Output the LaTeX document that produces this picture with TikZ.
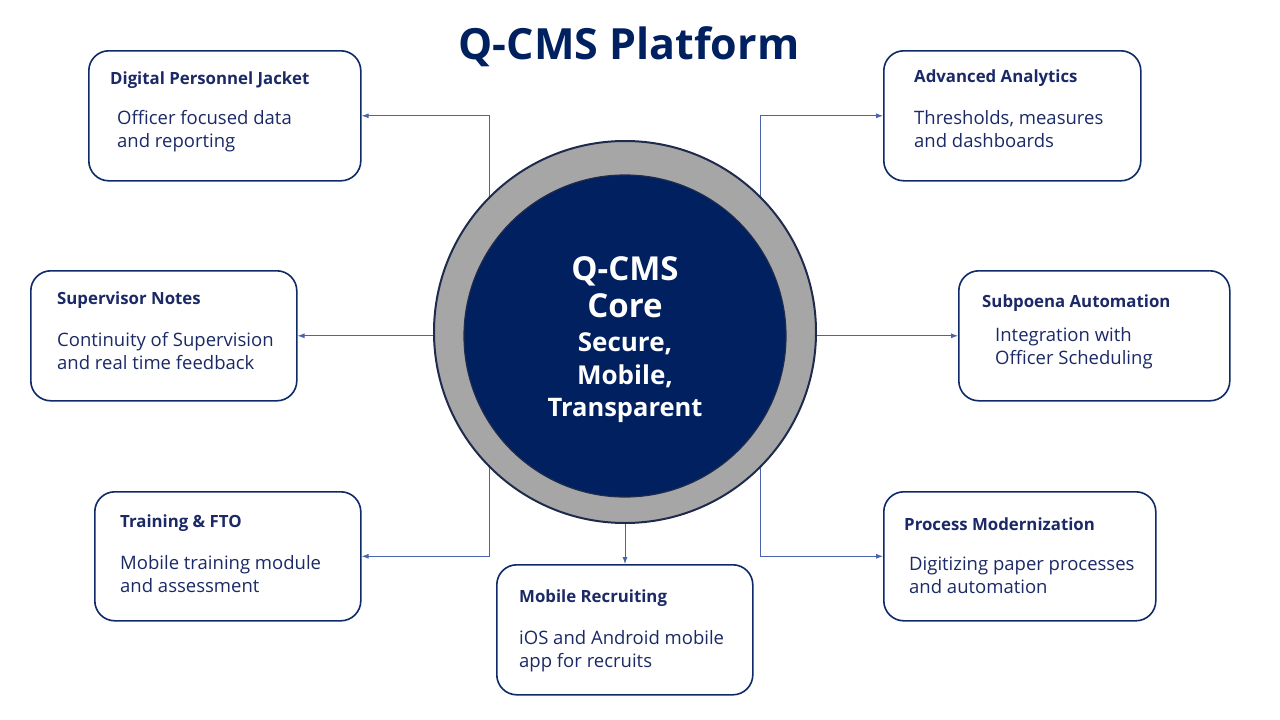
\documentclass[tikz,border=0pt]{standalone}
\usepackage{fontspec}
\setmainfont{Open Sans}
\usetikzlibrary{arrows.meta,calc}
\definecolor{navy}{HTML}{002060}
\definecolor{boxline}{HTML}{0E2A68}
\definecolor{txt}{HTML}{1B2A66}
\definecolor{conn}{HTML}{4A63AE}
\definecolor{ring}{HTML}{A6A6A6}
\definecolor{ringline}{HTML}{1F2B4D}
\tikzset{
  card/.style={draw=boxline, line width=1.6pt, rounded corners=20pt, fill=white, anchor=north west, inner sep=0pt},
  cardtitle/.style={anchor=base west, inner sep=0pt, text=txt, font=\fontsize{16.8}{19}\selectfont\bfseries},
  cardbody/.style={anchor=base west, inner sep=0pt, text=txt, align=left, font=\fontsize{18.5}{23}\selectfont},
  coretext/.style={anchor=base, inner sep=0pt, text=white, font=\fontsize{26}{30}\selectfont\bfseries},
  link/.style={draw=conn, line width=0.8pt, -{Latex[length=7pt,width=5pt]}},
}
\begin{document}
\begin{tikzpicture}[x=1pt,y=-1pt]
\useasboundingbox (0,0) rectangle (1280,720);
\fill[white] (0,0) rectangle (1280,720);

\node[anchor=base, inner sep=0pt, text=navy, font=\fontsize{43}{48}\selectfont\bfseries] (title) at (629,59) {Q-CMS Platform};

% core
\node[circle, draw=ringline, line width=2pt, fill=ring, minimum size=382pt, inner sep=0pt] (core) at (625,332) {};
\node[circle, draw=ringline, line width=1.2pt, fill=navy, minimum size=322pt, inner sep=0pt] (inner) at (625,336) {};
\node[coretext, font=\fontsize{33}{36}\selectfont\bfseries] (c1) at (625,280) {Q-CMS};
\node[coretext, font=\fontsize{33}{36}\selectfont\bfseries] (c2) at (625,317) {Core};
\node[coretext] (c3) at (625,351) {Secure,};
\node[coretext] (c4) at (625,384) {Mobile,};
\node[coretext, font=\fontsize{25.5}{30}\selectfont\bfseries] (c5) at (625,416) {Transparent};

% cards
\node[card, minimum width=272pt, minimum height=130pt] (dpj) at (88,50) {};
\node[cardtitle] (dpjt) at (110,84) {Digital Personnel Jacket};
\node[cardbody] (dpjb) at (117,147) {Officer focused data\\and reporting};

\node[card, minimum width=257pt, minimum height=130pt] (aa) at (883,50) {};
\node[cardtitle] (aat) at (914,82) {Advanced Analytics};
\node[cardbody] (aab) at (914,147) {Thresholds, measures\\and dashboards};

\node[card, minimum width=266pt, minimum height=130pt] (sup) at (30,270) {};
\node[cardtitle] (supt) at (57,304) {Supervisor Notes};
\node[cardbody] (supb) at (57,369) {Continuity of Supervision\\and real time feedback};

\node[card, minimum width=271pt, minimum height=130pt] (sub) at (958,270) {};
\node[cardtitle] (subt) at (982,307) {Subpoena Automation};
\node[cardbody] (subb) at (995,364) {Integration with\\Officer Scheduling};

\node[card, minimum width=266pt, minimum height=129pt] (tr) at (94,491) {};
\node[cardtitle] (trt) at (120,527) {Training \& FTO};
\node[cardbody] (trb) at (120,592) {Mobile training module\\and assessment};

\node[card, minimum width=256pt, minimum height=130pt] (mr) at (496,564) {};
\node[cardtitle] (mrt) at (519,602) {Mobile Recruiting};
\node[cardbody] (mrb) at (519,667) {iOS and Android mobile\\app for recruits};

\node[card, minimum width=272pt, minimum height=129pt] (pm) at (883,491) {};
\node[cardtitle] (pmt) at (904,530) {Process Modernization};
\node[cardbody] (pmb) at (909,593) {Digitizing paper processes\\and automation};

% connectors
\draw[link] (core.135) |- (dpj.east);
\draw[link] (core.45) |- (aa.west);
\draw[link] (core.west |- sup.east) -- (sup.east);
\draw[link] (core.east |- sub.west) -- (sub.west);
\draw[link] (core.225) |- (tr.east);
\draw[link] (core.315) |- (pm.west);
\draw[link] (core.south) -- (mr.north -| core.south);
\end{tikzpicture}
\end{document}
